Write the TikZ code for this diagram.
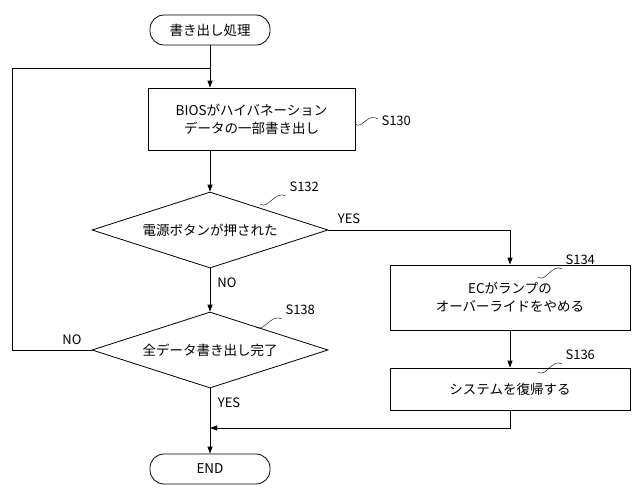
\documentclass[tikz,border=0pt]{standalone}
\usepackage{fontspec}
\setmainfont{Noto Sans CJK JP}
\usetikzlibrary{shapes.geometric,arrows.meta}
\begin{document}
\begin{tikzpicture}[x=1pt,y=-1pt,
  every node/.style={font=\fontsize{13.5}{18}\selectfont},
  box/.style={draw,thick,rectangle,align=center,inner sep=0},
  term/.style={draw,thick,rounded corners=14pt,minimum width=120pt,minimum height=30pt},
  dia/.style={draw,thick,diamond,aspect=3.1,minimum width=236pt,minimum height=76pt,inner sep=0},
  ln/.style={thick},
  arr/.style={thick,-{Triangle[length=7pt,width=5pt]}},
  lab/.style={font=\fontsize{13}{15}\selectfont}]
\useasboundingbox (0,0) rectangle (640,496);
\node[term] (st) at (210,30) {書き出し処理};
\node[box,minimum width=207pt,minimum height=62pt] (s130) at (251.5,119) {BIOSがハイバネーション\\データの一部書き出し};
\node[dia] (d132) at (210,230) {電源ボタンが押された};
\node[dia] (d138) at (210,350) {全データ書き出し完了};
\node[box,minimum width=240pt,minimum height=65pt] (s134) at (510,297.5) {ECがランプの\\オーバーライドをやめる};
\node[box,minimum width=240pt,minimum height=42pt] (s136) at (510,389) {システムを復帰する};
\node[term] (end) at (210,469) {END};
\coordinate (lp1) at (12,350);
\coordinate (lp2) at (12,68);
\coordinate (lp3) at (210,68);
\coordinate (y1) at (510,230);
\coordinate (m1) at (510,428);
\coordinate (m2) at (210,428);
\draw[ln] (st.south) -- (lp3);
\draw[arr] (d138.west) -- (lp1) -- (lp2) -- (lp3) -- (s130.north -| lp3);
\draw[arr] (s130.south -| lp3) -- (d132.north);
\draw[arr] (d132.east) -- (y1) -- (s134.north);
\draw[arr] (d132.south) -- (d138.north);
\draw[arr] (s134.south) -- (s136.north);
\draw[arr] (s136.south) -- (m1) -- (m2);
\draw[arr] (d138.south) -- (end.north);
\node[lab] (yes1) at (349,219) {YES};
\node[lab] (no1) at (227,283) {NO};
\node[lab] (no2) at (72,340) {NO};
\node[lab] (yes2) at (229,403) {YES};
\node[lab,anchor=west] (l130) at (378,121) {S130};
\draw (s130.east |- 0,124) .. controls (362,130) and (368,112) .. (378,119);
\node[lab,anchor=west] (l132) at (286,187) {S132};
\draw (260,204) .. controls (268,210) and (275,190) .. (286,196);
\node[lab,anchor=west] (l138) at (282,310) {S138};
\draw (256,327) .. controls (264,333) and (271,313) .. (282,319);
\node[lab,anchor=west] (l134) at (562,260) {S134};
\draw (538,277) .. controls (546,283) and (552,263) .. (562,269);
\node[lab,anchor=west] (l136) at (562,355) {S136};
\draw (538,372) .. controls (546,378) and (552,358) .. (562,364);
\end{tikzpicture}
\end{document}
